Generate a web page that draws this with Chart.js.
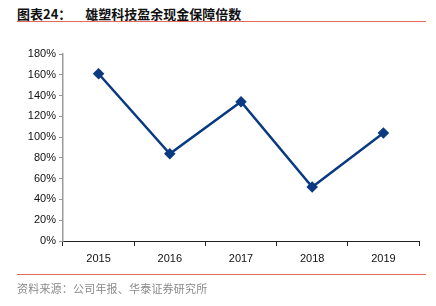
<!DOCTYPE html>
<html>
<head>
<meta charset="utf-8">
<script src="https://cdn.jsdelivr.net/npm/chart.js@4/dist/chart.umd.min.js"></script>
<style>
  body { margin: 0; background: #fff; }
  #wrap { position: relative; width: 436px; height: 306px; overflow: hidden; }
  #chart { position: absolute; left: 0; top: 0; }
  .title { position: absolute; left: 17px; top: 4px; font: bold 13px "Noto Sans CJK SC", sans-serif; color: #111; white-space: nowrap; }
  .title span { margin-right: 14px; }
  .rule { position: absolute; left: 17px; width: 409px; height: 1px; background: #e5685c; }
  .source { position: absolute; left: 17px; top: 280px; font: 11px "Noto Sans CJK SC", sans-serif; color: #8a8a8a; letter-spacing: 0.2px; white-space: nowrap; }
</style>
</head>
<body>
<div id="wrap">
  <div class="title"><span>图表24：</span>雄塑科技盈余现金保障倍数</div>
  <div class="rule" style="top:21px"></div>
  <canvas id="chart" width="436" height="306"></canvas>
  <div class="rule" style="top:274px"></div>
  <div class="source">资料来源：公司年报、华泰证券研究所</div>
</div>
<script>
const years = ["2015", "2016", "2017", "2018", "2019"];
const ratio = [161, 84, 134, 52, 104];
const yTicks = [0, 20, 40, 60, 80, 100, 120, 140, 160, 180];

const ctx = document.getElementById("chart").getContext("2d");
new Chart(ctx, {
  type: "line",
  data: {
    labels: years,
    datasets: [{
      data: ratio,
      borderColor: "#0a3a82",
      backgroundColor: "#0a3a82",
      borderWidth: 2.5,
      pointStyle: "rectRot",
      pointRadius: 4,
      pointHoverRadius: 4,
      tension: 0,
      fill: false
    }]
  },
  options: {
    responsive: false,
    animation: false,
    devicePixelRatio: 1,
    layout: { padding: { left: 0, top: 54, right: 17, bottom: 0 } },
    plugins: { legend: { display: false }, tooltip: { enabled: false }, title: { display: false } },
    scales: {
      x: {
        offset: true,
        afterFit: (s) => { s.height = 65; },
        border: { display: true, color: "#222", width: 1 },
        grid: { display: true, offset: true, drawOnChartArea: false, drawTicks: true, tickLength: 5, color: "#222" },
        ticks: { color: "#111", padding: 6, font: { family: "Liberation Sans", size: 11 } }
      },
      y: {
        min: 0,
        max: 180,
        afterFit: (s) => { s.width = 63; },
        afterBuildTicks: (s) => { s.ticks = yTicks.map(v => ({ value: v })); },
        border: { display: true, color: "#999", width: 1.5 },
        grid: { display: true, drawOnChartArea: false, drawTicks: true, tickLength: 4, color: "#999" },
        ticks: {
          color: "#111",
          padding: 3,
          font: { family: "Liberation Sans", size: 11 },
          callback: (v) => v + "%"
        }
      }
    }
  }
});
</script>
</body>
</html>
